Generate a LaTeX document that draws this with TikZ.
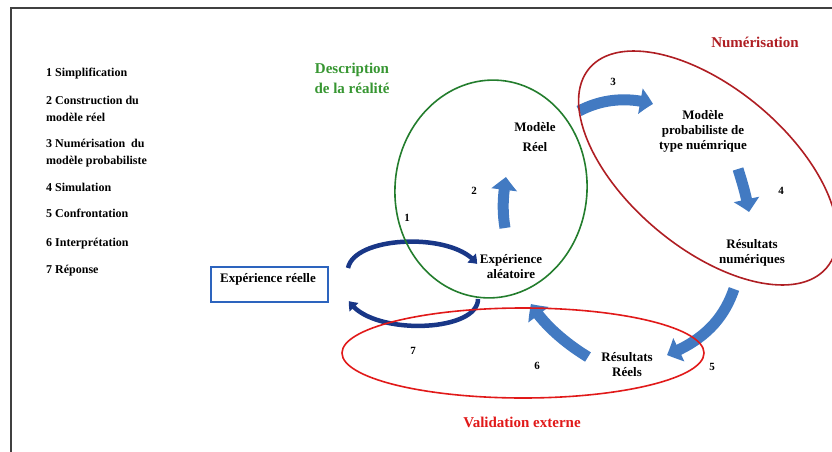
\documentclass[tikz,border=0pt]{standalone}
\usepackage{fontspec}
\setmainfont{Liberation Serif}
\usetikzlibrary{arrows.meta,bending}
\definecolor{fatblue}{RGB}{66,122,194}
\definecolor{navyc}{RGB}{25,55,135}
\definecolor{greenell}{RGB}{35,125,45}
\definecolor{greentxt}{RGB}{55,150,50}
\definecolor{darkred}{RGB}{175,30,35}
\definecolor{brightred}{RGB}{225,25,25}
\definecolor{boxblue}{RGB}{45,100,190}
\begin{document}
\begin{tikzpicture}[x=1pt,y=-1pt,
  leg/.style={anchor=base west,font=\fontsize{12}{13}\selectfont\bfseries,inner sep=0pt},
  lbl/.style={font=\fontsize{13}{15}\selectfont\bfseries,align=center,inner sep=0pt},
  num/.style={font=\fontsize{11}{12}\selectfont\bfseries,inner sep=0pt},
  ttl/.style={font=\fontsize{15}{20}\selectfont\bfseries,align=center,inner sep=0pt},
  fat/.style={draw=fatblue,line width=11pt,-{Triangle[width=25pt,length=13pt,bend]}},
  navyarc/.style={draw=navyc,line width=4.5pt,-{Triangle[width=12pt,length=8pt,bend]}},
]
\useasboundingbox (0,0) rectangle (832,452);
% frame
\draw[line width=1.6pt,black!75] (832,8) -- (11,8) -- (11,452);

% legend
\node[leg] (l1) at (46,77) {1 Simplification};
\node[leg] (l2a) at (46,104) {2 Construction du};
\node[leg] (l2b) at (46,121) {modèle réel};
\node[leg] (l3a) at (46,147) {3 Numérisation\ \ du};
\node[leg] (l3b) at (46,164) {modèle probabiliste};
\node[leg] (l4) at (46,191) {4 Simulation};
\node[leg] (l5) at (46,217) {5 Confrontation};
\node[leg] (l6) at (46,246) {6 Interprétation};
\node[leg] (l7) at (46,273) {7 Réponse};

% fat blue arrows
\coordinate (a2s) at (505,228); \coordinate (a2e) at (506,177);
\coordinate (a3s) at (579,111); \coordinate (a3e) at (653,104);
\coordinate (a4s) at (738,169); \coordinate (a4e) at (749,212);
\coordinate (a5s) at (734,289); \coordinate (a5e) at (667,355);
\coordinate (a6s) at (588,357); \coordinate (a6e) at (531,304);
\draw[fat] (a2s) .. controls (502,210) and (503,195) .. (a2e);
\draw[fat] (a3s) .. controls (600,100) and (625,96) .. (a3e);
\draw[fat] (a4s) .. controls (743,185) and (746,195) .. (a4e);
\draw[fat] (a5s) .. controls (724,318) and (705,340) .. (a5e);
\draw[fat] (a6s) .. controls (565,343) and (543,324) .. (a6e);

% navy arcs
\coordinate (n1s) at (348,268); \coordinate (n1e) at (477,264);
\coordinate (n2s) at (478,299); \coordinate (n2e) at (349,301);
\draw[navyarc] (n1s) .. controls (355,235) and (455,232) .. (n1e);
\draw[navyarc] (n2s) .. controls (478,333) and (370,336) .. (n2e);

% ellipses
\draw[greenell,line width=1.6pt,rotate around={-5:(491,189)}] (491,189) ellipse [x radius=96, y radius=109];
\draw[darkred,line width=1.6pt,rotate around={-40:(708,168)}] (708,168) ellipse [x radius=155, y radius=80];
\draw[brightred,line width=1.6pt] (523,353) ellipse [x radius=181, y radius=45];

% titles
\node[ttl,text=greentxt] (desc) at (352,78) {Description\\de la réalité};
\node[ttl,text=darkred] (numt) at (755,42) {Numérisation};
\node[ttl,text=brightred] (valt) at (522,422) {Validation externe};

% concept labels
\node[lbl] (mreel) at (535,137) {Modèle\\[5pt]Réel};
\node[lbl] (mproba) at (703,131) {Modèle\\probabiliste de\\type nuémrique};
\node[lbl] (rnum) at (752,253) {Résultats\\numériques};
\node[lbl] (rreels) at (627,365) {Résultats\\Réels};
\node[lbl] (expal) at (511,267) {Expérience\\aléatoire};
\node[lbl,draw=boxblue,line width=1.5pt,minimum width=117pt,minimum height=35pt,anchor=north west] (expr) at (210,266) {};
\node[lbl] (exprt) at (268,279) {Expérience réelle};

% numbers
\node[num] (n1) at (407,218) {1};
\node[num] (n2) at (474,191) {2};
\node[num] (n3) at (613,82) {3};
\node[num] (n4) at (781,191) {4};
\node[num] (n5) at (712,367) {5};
\node[num] (n6) at (537,366) {6};
\node[num] (n7) at (413,351) {7};
\end{tikzpicture}
\end{document}
